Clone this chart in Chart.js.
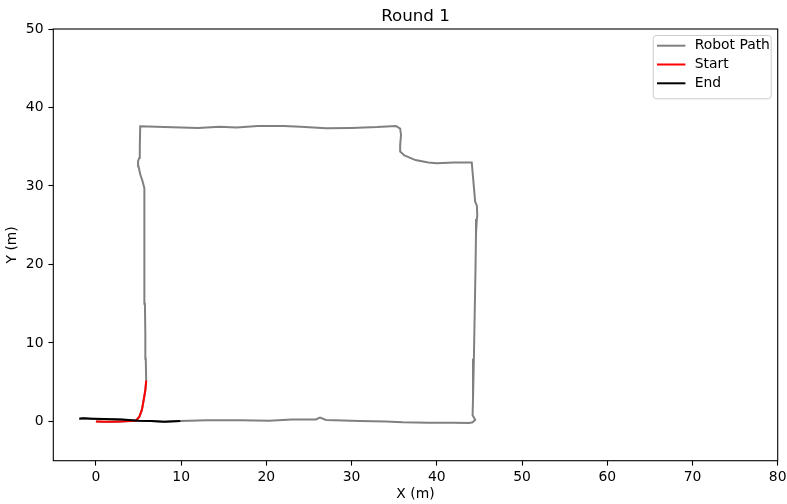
<!DOCTYPE html>
<html>
<head>
<meta charset="utf-8">
<script src="https://cdn.jsdelivr.net/npm/chart.js@4/dist/chart.umd.min.js"></script>
<style>
  body { margin: 0; background: #fff; }
  #wrap { width: 787px; height: 504px; }
</style>
</head>
<body>
<div id="wrap"><canvas id="chart" width="787" height="504"></canvas></div>
<script>
const chartTitle = 'Round 1';
const xTicks = [0, 10, 20, 30, 40, 50, 60, 70, 80];
const yTicks = [0, 10, 20, 30, 40, 50];

// whole trajectory
const pathX = [0, 1, 2, 3, 4, 4.7, 5.1, 5.4, 5.6, 5.8, 5.9,
  5.85, 5.8, 5.75, 5.7, 5.7, 5.7, 5.65, 5.5, 5.2, 5.0, 4.95, 5.1, 5.15, 5.2,
  8, 12, 14.5, 16.5, 19, 22, 24, 27, 30, 33, 35.2, 35.7, 35.8, 35.7, 35.7, 36.2, 37.5, 39, 40, 42, 44.1,
  44.3, 44.5, 44.7, 44.75, 44.7, 44.6, 44.55, 44.45, 44.35, 44.25, 44.2, 44.5, 44.2, 43.8,
  42, 39, 36, 34, 31, 27, 26.3, 25.8, 23, 20.3, 17, 13, 11, 9.9,
  8, 6.5, 5, 3, 1, -0.5, -1.5, -1.95];
const pathY = [0, -0.05, -0.05, 0, 0.05, 0.1, 0.6, 1.5, 2.7, 4, 5.2,
  8, 11, 15, 20, 24, 28, 29.7, 30.5, 31.5, 32.5, 33.2, 33.6, 35, 37.6,
  37.5, 37.4, 37.55, 37.45, 37.65, 37.65, 37.55, 37.35, 37.4, 37.5, 37.65, 37.3, 36.5, 35.2, 34.4, 33.9, 33.3, 33.0, 32.9, 33.0, 33.0,
  30.5, 28.0, 27.5, 26.2, 25.8, 24, 20, 14, 8, 3, 0.8, 0.2, -0.1, -0.2,
  -0.15, -0.15, -0.1, 0, 0.05, 0.2, 0.5, 0.25, 0.25, 0.1, 0.15, 0.15, 0.1, 0.05,
  -0.05, 0.05, 0.1, 0.25, 0.3, 0.35, 0.4, 0.35];

// first part of the trajectory
const startX = [0, 1, 2, 3, 4, 4.7, 5.1, 5.4, 5.6, 5.8, 5.9];
const startY = [0, -0.05, -0.05, 0, 0.05, 0.1, 0.6, 1.5, 2.7, 4, 5.2];

// last part of the trajectory
const endX = [9.9, 8, 6.5, 5, 3, 1, -0.5, -1.5, -1.95];
const endY = [0.05, -0.05, 0.05, 0.1, 0.25, 0.3, 0.35, 0.4, 0.35];

const toPoints = (xs, ys) => xs.map((x, i) => ({ x: x, y: ys[i] }));

const FONT = 'DejaVu Sans';

// box around the axes + title centred over the plot
const framePlugin = {
  id: 'frame',
  afterDraw(chart) {
    const { ctx, chartArea: a } = chart;
    ctx.save();
    ctx.strokeStyle = '#000';
    ctx.lineWidth = 1.1;
    ctx.strokeRect(a.left, a.top, a.right - a.left, a.bottom - a.top);
    ctx.fillStyle = '#000';
    ctx.font = '16.7px "' + FONT + '"';
    ctx.textAlign = 'center';
    ctx.textBaseline = 'alphabetic';
    ctx.fillText(chartTitle, (a.left + a.right) / 2, a.top - 8.5);
    ctx.restore();
  }
};

// matplotlib style legend in the upper right corner
const legendPlugin = {
  id: 'mplLegend',
  afterDraw(chart) {
    const { ctx, chartArea: a } = chart;
    const sets = chart.data.datasets;
    const w = 118, rowH = 18.8, h = 63.3;
    const x0 = a.right - 7 - w, y0 = a.top + 6;
    ctx.save();
    ctx.fillStyle = 'rgba(255,255,255,0.8)';
    ctx.strokeStyle = '#cccccc';
    ctx.lineWidth = 1;
    ctx.beginPath();
    ctx.roundRect(x0 + 0.5, y0 + 0.5, w, h, 3);
    ctx.fill();
    ctx.stroke();
    ctx.font = '13.9px "' + FONT + '"';
    ctx.textBaseline = 'middle';
    sets.forEach((ds, i) => {
      const y = y0 + 10.7 + i * rowH;
      ctx.strokeStyle = ds.borderColor;
      ctx.lineWidth = 2;
      ctx.beginPath();
      ctx.moveTo(x0 + 4.3, y);
      ctx.lineTo(x0 + 32.7, y);
      ctx.stroke();
      ctx.fillStyle = '#000';
      ctx.fillText(ds.label, x0 + 42, y);
    });
    ctx.restore();
  }
};

new Chart(document.getElementById('chart'), {
  type: 'scatter',
  data: {
    datasets: [
      { label: 'Robot Path', data: toPoints(pathX, pathY), borderColor: '#808080', showLine: true, borderWidth: 2, pointRadius: 0, order: 2 },
      { label: 'Start', data: toPoints(startX, startY), borderColor: '#ff0000', showLine: true, borderWidth: 2, pointRadius: 0, order: 1 },
      { label: 'End', data: toPoints(endX, endY), borderColor: '#000000', showLine: true, borderWidth: 2, pointRadius: 0, order: 0 }
    ]
  },
  options: {
    responsive: false,
    animation: false,
    layout: { padding: { top: 29, right: 9.3, left: 0, bottom: 0 } },
    plugins: {
      legend: { display: false },
      tooltip: { enabled: false },
      title: { display: false }
    },
    scales: {
      x: {
        type: 'linear',
        min: -5,
        max: 80,
        afterBuildTicks: (s) => { s.ticks = xTicks.map(v => ({ value: v })); },
        afterFit: (s) => { s.height = 43.3; s.paddingLeft = 0; s.paddingRight = 0; },
        border: { display: false },
        grid: { drawOnChartArea: false, tickLength: 4.9, color: '#000', tickWidth: 1.1 },
        ticks: { color: '#000', padding: 3, maxRotation: 0, font: { family: FONT, size: 13.9 } },
        title: { display: true, text: 'X (m)', color: '#000', padding: { top: 0, bottom: 1.5 }, font: { family: FONT, size: 13.9 } }
      },
      y: {
        type: 'linear',
        min: -5,
        max: 50,
        afterBuildTicks: (s) => { s.ticks = yTicks.map(v => ({ value: v })); },
        afterFit: (s) => { s.width = 53.3; s.paddingTop = 0; s.paddingBottom = 0; },
        border: { display: false },
        grid: { drawOnChartArea: false, tickLength: 4.9, color: '#000', tickWidth: 1.1 },
        ticks: { color: '#000', padding: 4.9, font: { family: FONT, size: 13.9 } },
        title: { display: true, text: 'Y (m)', color: '#000', padding: { top: 4, bottom: 0 }, font: { family: FONT, size: 13.9 } }
      }
    }
  },
  plugins: [framePlugin, legendPlugin]
});
</script>
</body>
</html>
